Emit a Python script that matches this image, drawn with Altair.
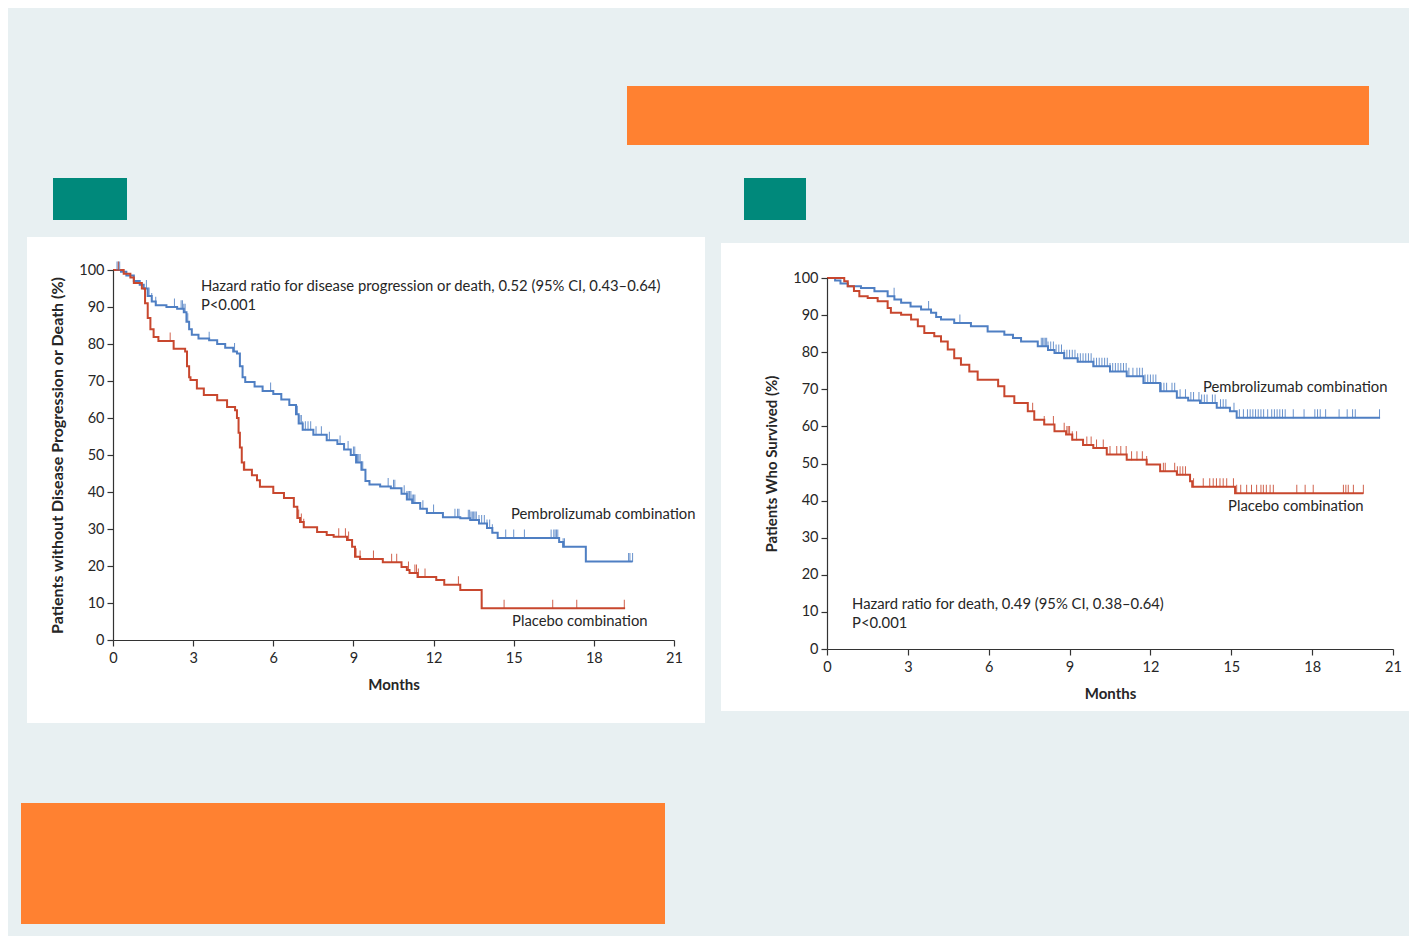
import altair as alt
import pandas as pd
import numpy as np

# ---------------- data ----------------
# Panel A: progression-free survival (months, % without progression or death)
pfs_pembro_t = [0, 0.3, 0.5, 0.78, 1.0, 1.15, 1.3, 1.45, 1.6, 2.0, 2.4, 2.65, 2.75, 2.85, 2.95, 3.2, 3.6, 3.9,
                4.2, 4.5, 4.64, 4.75, 4.85, 4.95, 5.3, 5.6, 6.0, 6.3, 6.6, 6.85, 6.95, 7.1, 7.5, 8.0, 8.4, 8.65,
                8.9, 9.1, 9.3, 9.45, 9.6, 10.0, 10.4, 10.8, 11.0, 11.2, 11.5, 11.75, 12.35, 13.0, 13.37, 13.7,
                14.0, 14.2, 14.4, 16.7, 16.85, 17.7, 19.45]
pfs_pembro_s = [100, 99.5, 98.5, 97, 96, 95, 93, 91.5, 90.5, 90, 89.5, 88.6, 86, 84, 82.5, 81.5, 81, 80,
                79, 78, 77.4, 74, 71, 69.7, 68.5, 67.3, 66.5, 65, 63.5, 61, 58.5, 56.8, 55.5, 54, 53, 51.5,
                50, 48, 46, 43, 42, 41.5, 41, 39.5, 38, 37, 35.5, 34.3, 33.2, 32.9, 32.4, 31.5,
                30.3, 29, 27.6, 26.5, 25.2, 21.2, 21.2]
pfs_placebo_t = [0, 0.4, 0.65, 0.78, 1.08, 1.2, 1.3, 1.4, 1.52, 1.7, 2.27, 2.7, 2.77, 2.85, 2.9, 3.14, 3.4,
                 3.9, 4.27, 4.57, 4.64, 4.7, 4.75, 4.82, 4.9, 5.2, 5.39, 5.5, 6.0, 6.4, 6.77, 6.9, 7.0, 7.14,
                 7.64, 8.0, 8.26, 8.76, 8.95, 9.06, 9.25, 10.1, 10.8, 11.0, 11.1, 11.4, 12.1, 12.4, 13.0,
                 13.8, 19.17]
pfs_placebo_s = [100, 99, 98, 96.5, 95, 91, 87, 84, 81.9, 80.8, 78.7, 78, 74, 71, 70.3, 68, 66.2,
                 64.8, 63, 62.1, 60, 56, 52, 48, 46, 44.5, 43.2, 41.4, 39.7, 38.4, 36, 33, 31.9, 30.5,
                 29.2, 28.4, 27.9, 27, 25.2, 22.5, 21.9, 21, 19.7, 18.9, 18.1, 17, 16.2, 14.9, 13.5,
                 8.6, 8.6]
pfs_pembro_cens = [0.15, 0.2, 0.25, 1.25, 1.35, 1.45, 1.6, 2.3, 2.55, 2.6, 2.65, 2.7, 2.8, 3.6, 4.55, 5.9,
                   6.85, 6.9, 7.0, 7.05, 7.1, 7.2, 7.3, 7.4, 7.6, 7.8, 8.1, 8.5, 8.8, 9.0, 9.05, 9.1, 9.15,
                   9.2, 9.25, 9.3, 9.35, 10.3, 10.5, 10.55, 10.9, 11.0, 11.05, 11.1, 11.15, 11.2, 11.25,
                   11.3, 11.6, 12.0, 12.8, 12.9, 12.95, 13.3, 13.35, 13.4, 13.45, 13.5, 13.55, 13.6, 13.7,
                   13.8, 13.9, 14.0, 14.1, 14.2, 14.7, 15.0, 15.4, 16.4, 16.5, 16.55, 16.6, 16.65, 16.85,
                   16.9, 19.3, 19.35, 19.45]
pfs_placebo_cens = [0.2, 2.14, 4.93, 6.95, 7.05, 7.14, 8.45, 8.7, 8.82, 9.06, 9.1, 9.25, 9.75, 10.43, 10.62,
                    11.06, 11.3, 11.36, 11.43, 11.68, 12.93, 13.8, 14.64, 16.46, 17.36, 19.14]

# Panel B: overall survival (months, % alive)
os_pembro_t = [0, 0.3, 0.5, 0.77, 1.26, 1.76, 2.25, 2.5, 2.75, 3.1, 3.49, 3.86, 4.05, 4.23, 4.72, 5.34, 5.96,
               6.58, 6.9, 7.2, 7.82, 8.2, 8.44, 8.8, 9.3, 9.88, 10.5, 11.12, 11.74, 12.36, 12.98, 13.4, 13.84,
               14.46, 14.95, 15.2, 20.52]
os_pembro_s = [100, 99.3, 98.5, 97.8, 97.3, 96.4, 95.1, 94.2, 93.3, 92.3, 91.5, 90.6, 89.5, 88.8, 87.9, 87, 85.6,
               84.7, 83.8, 82.9, 81.6, 80.6, 79.8, 78.4, 77.4, 76.2, 74.8, 73.5, 71.7, 69.5, 67.7, 67, 66.3,
               65, 64.1, 62.3, 62.3]
os_placebo_t = [0, 0.64, 0.77, 1.0, 1.2, 1.51, 1.88, 2.25, 2.37, 2.75, 3.12, 3.37, 3.61, 3.98, 4.23, 4.48, 4.72,
                4.97, 5.28, 5.59, 6.35, 6.58, 6.95, 7.45, 7.69, 8.06, 8.44, 8.87, 9.1, 9.5, 9.88, 10.38, 11.12,
                11.86, 12.36, 12.98, 13.47, 13.55, 15.14, 19.9]
os_placebo_s = [100, 99.1, 97.8, 96.5, 95.1, 94.6, 93.7, 91.9, 90.6, 90.1, 88.8, 87, 85.2, 84.3, 82.9, 80.7, 78.4,
                76.6, 74.8, 72.6, 70.8, 68.1, 66.3, 64.1, 61.8, 60.5, 58.7, 57.8, 56.4, 55, 54.2, 52.4, 51,
                49.7, 47.9, 47, 45.2, 43.7, 42, 42]
os_pembro_cens = [2.49, 3.77, 4.93, 7.95, 8.0, 8.05, 8.1, 8.15, 8.2, 8.3, 8.4, 8.5, 8.6, 8.7, 8.8, 8.9, 9.0, 9.1,
                  9.2, 9.3, 9.4, 9.5, 9.6, 9.7, 9.8, 9.9, 10.0, 10.1, 10.2, 10.3, 10.4, 10.5, 10.6, 10.7, 10.8,
                  10.9, 11.0, 11.1, 11.2, 11.35, 11.5, 11.6, 11.7, 11.8, 11.9, 12.0, 12.1, 12.2, 12.4, 12.5,
                  12.6, 12.8, 12.9, 13.1, 13.3, 13.5, 13.6, 13.8, 13.9, 14.0, 14.1, 14.3, 14.4, 14.6, 14.7,
                  14.8, 15.1, 15.3, 15.45, 15.6, 15.7, 15.8, 15.9, 16.0, 16.1, 16.2, 16.35, 16.5, 16.6, 16.7,
                  16.8, 16.9, 17.0, 17.3, 17.7, 18.1, 18.2, 18.3, 18.5, 19.0, 19.3, 19.5, 19.6, 20.5]
os_placebo_cens = [7.63, 8.06, 8.4, 8.8, 8.9, 8.95, 9.0, 9.1, 9.26, 9.64, 9.8, 10.0, 10.25, 10.5, 10.75, 10.9,
                   11.1, 11.3, 11.5, 11.7, 11.86, 12.48, 12.55, 12.9, 13.0, 13.1, 13.2, 13.3, 13.6, 13.96, 14.2,
                   14.33, 14.45, 14.58, 14.7, 14.83, 15.08, 15.2, 15.35, 15.57, 15.75, 15.94, 16.1, 16.19,
                   16.3, 16.44, 16.56, 17.43, 17.74, 18.04, 19.16, 19.25, 19.34, 19.53, 19.9]

arms = ["Pembrolizumab combination", "Placebo combination"]
month_ticks = [0, 3, 6, 9, 12, 15, 18, 21]
pct_ticks = [0, 10, 20, 30, 40, 50, 60, 70, 80, 90, 100]

# ---------------- styling ----------------
BG = "#e8f0f2"
ORANGE = "#ff8131"
TEAL = "#00897b"
BLUE = "#4f7fc3"
RED = "#c8472e"
INK = "#262626"
FONT = "Lato"
W, H = 1401, 928


def curve_df(t, s, arm):
    return pd.DataFrame({"month": t, "pct": s, "arm": arm})


def censor_df(ct, t, s, arm):
    idx = np.searchsorted(np.array(t), np.array(ct), side="right") - 1
    return pd.DataFrame({"month": ct, "pct": np.array(s)[idx], "arm": arm})


color_scale = alt.Scale(domain=arms, range=[BLUE, RED])


def panel(curves, censors, xr, yr, x_off, y_off, ytitle, ytitle_size, texts):
    xs = alt.Scale(domain=[0, 21], range=xr, nice=False, zero=False)
    ys = alt.Scale(domain=[0, 100], range=yr, nice=False, zero=False)
    common = dict(grid=False, tickSize=6, labelFontSize=14.5, titleFontWeight="bold",
                  labelColor=INK, titleColor=INK, domainColor="#333", tickColor="#333", labelFont=FONT,
                  titleFont=FONT, domainWidth=1.2, tickWidth=1.2, zindex=1, labelFlush=False,
                  labelOverlap=False)
    xaxis = alt.Axis(orient="bottom", offset=x_off, values=month_ticks, title="Months",
                     labelPadding=5, titlePadding=13, titleFontSize=15, **common)
    yaxis = alt.Axis(orient="left", offset=y_off, values=pct_ticks, title=ytitle,
                     labelPadding=3, titlePadding=13, titleFontSize=ytitle_size, **common)
    X = lambda: alt.X("month:Q", scale=xs, axis=xaxis)
    Y = lambda: alt.Y("pct:Q", scale=ys, axis=yaxis)
    lines = alt.Chart(curves).mark_line(interpolate="step-after", strokeWidth=2).encode(
        x=X(), y=Y(),
        color=alt.Color("arm:N", scale=color_scale, legend=None),
        detail="arm:N",
    )
    cens = alt.Chart(censors).mark_tick(orient="vertical", size=9, thickness=1, yOffset=-4, opacity=0.85).encode(
        x=X(), y=Y(),
        color=alt.Color("arm:N", scale=color_scale, legend=None),
    )
    layers = [lines, cens]
    for txt, mx, py in texts:
        layers.append(
            alt.Chart(pd.DataFrame({"k": [0]})).mark_text(
                text=txt, align="left", baseline="middle", font=FONT, fontSize=14.8, color=INK, lineHeight=19
            ).encode(x=alt.X(datum=mx, scale=xs, axis=xaxis), y=alt.Y(datum=py, scale=ys, axis=yaxis))
        )
    return alt.layer(*layers)


left = panel(
    pd.concat([curve_df(pfs_pembro_t, pfs_pembro_s, arms[0]), curve_df(pfs_placebo_t, pfs_placebo_s, arms[1])]),
    pd.concat([censor_df(pfs_pembro_cens, pfs_pembro_t, pfs_pembro_s, arms[0]),
               censor_df(pfs_placebo_cens, pfs_placebo_t, pfs_placebo_s, arms[1])]),
    [105, 666], [632, 262], -296, -105,
    "Patients without Disease Progression or Death (%)", 16,
    [(["Hazard ratio for disease progression or death, 0.52 (95% CI, 0.43\u20130.64)", "P<0.001"], 3.29, 95.4),
     ("Pembrolizumab combination", 14.9, 33.8),
     ("Placebo combination", 14.94, 4.9)],
)

right = panel(
    pd.concat([curve_df(os_pembro_t, os_pembro_s, arms[0]), curve_df(os_placebo_t, os_placebo_s, arms[1])]),
    pd.concat([censor_df(os_pembro_cens, os_pembro_t, os_pembro_s, arms[0]),
               censor_df(os_placebo_cens, os_placebo_t, os_placebo_s, arms[1])]),
    [819, 1385], [641, 270], -287, -819,
    "Patients Who Survived (%)", 15,
    [(["Hazard ratio for death, 0.49 (95% CI, 0.38\u20130.64)", "P<0.001"], 0.93, 11.8),
     ("Pembrolizumab combination", 13.95, 70.4),
     ("Placebo combination", 14.88, 38.3)],
)


def box(x0, y0, x1, y1, color):
    return alt.Chart(pd.DataFrame({"k": [0]})).mark_rect(color=color).encode(
        x=alt.value(x0), x2=alt.value(x1), y=alt.value(y0), y2=alt.value(y1)
    )


decor = [
    box(619, 78, 1361, 137, ORANGE),
    box(45, 170, 119, 212, TEAL),
    box(736, 170, 798, 212, TEAL),
    box(19, 229, 697, 715, "white"),
    box(713, 235, 1402, 703, "white"),
    box(13, 795, 657, 916, ORANGE),
]

chart = alt.layer(*decor, left, right).resolve_scale(x="independent", y="independent").properties(
    width=W, height=H, padding=0, autosize=alt.AutoSizeParams(type="none"), background=BG
).configure_view(stroke=None)

chart.save("out.html", embed_options={"renderer": "svg", "actions": False})
